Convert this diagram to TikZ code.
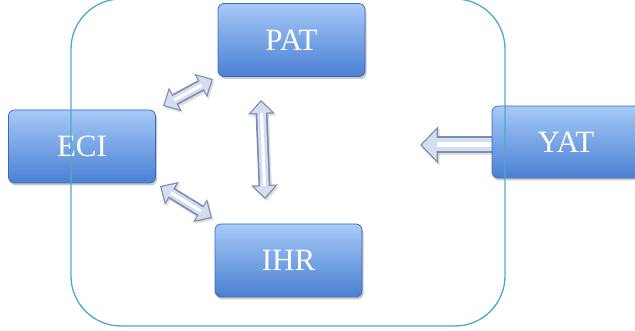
\documentclass[tikz,border=0pt]{standalone}
\usepackage{fontspec}
\setmainfont{Liberation Serif}
\usetikzlibrary{arrows.meta,shadows}

\definecolor{boxtop}{HTML}{A6C9F7}
\definecolor{boxmid}{HTML}{72A5EE}
\definecolor{boxbot}{HTML}{4A80D3}
\definecolor{boxedge}{HTML}{3A69B8}
\definecolor{frameline}{HTML}{4BACC6}
\definecolor{arrowedge}{HTML}{7F8EB0}
\definecolor{arrowfill}{HTML}{D3DEF1}

\tikzset{
  unitbox/.style={
    rectangle, rounded corners=6pt, inner sep=0pt,
    minimum width=147pt, minimum height=73pt,
    draw=boxedge, line width=0.7pt,
    top color=boxtop, middle color=boxmid, bottom color=boxbot,
    drop shadow={shadow xshift=1.5pt, shadow yshift=-2.5pt, opacity=0.35, fill=black!60},
    text=white, font=\fontsize{31}{35}\selectfont
  },
  % two-headed connector, drawn in layers
  twoshade/.style={draw=black!35, line width=12pt,
    {Triangle[length=14pt,width=26pt]}-{Triangle[length=14pt,width=26pt]}},
  twoedge/.style={draw=arrowedge, line width=12pt,
    {Triangle[length=14pt,width=26pt]}-{Triangle[length=14pt,width=26pt]}},
  twofill/.style={draw=arrowfill, line width=8.5pt, shorten >=1.8pt, shorten <=1.8pt,
    {Triangle[length=11pt,width=20.5pt]}-{Triangle[length=11pt,width=20.5pt]}},
  twoshine/.style={draw=white, line width=3pt, shorten >=13pt, shorten <=13pt},
  % one-headed connector
  oneshade/.style={draw=black!35, line width=17pt, -{Triangle[length=18pt,width=36pt]}},
  oneedge/.style={draw=arrowedge, line width=17pt, -{Triangle[length=18pt,width=36pt]}},
  onefill/.style={draw=arrowfill, line width=13pt, shorten >=2pt,
    -{Triangle[length=14.5pt,width=29.5pt]}},
  oneshine/.style={draw=white, line width=5pt, shorten >=17pt},
  frame/.style={draw=frameline, line width=1.3pt, rounded corners=50pt}
}

\begin{document}
\begin{tikzpicture}[x=1pt, y=-1pt]
  \clip (0,0) rectangle (635,331);
  \useasboundingbox (0,0) rectangle (635,331);

  % arrow end points
  \coordinate (pe1) at (163,106);
  \coordinate (pe2) at (213,79);
  \coordinate (pi1) at (261,100);
  \coordinate (pi2) at (265,199);
  \coordinate (ei1) at (160,186);
  \coordinate (ei2) at (212,218);
  \coordinate (yt1) at (494,145);
  \coordinate (yt2) at (420,145);

  % connectors
  \foreach \a/\b in {pe1/pe2, pi1/pi2, ei1/ei2} {
    \draw[twoshade, opacity=0.35, transform canvas={shift={(1.5pt,-2pt)}}] (\a) -- (\b);
    \draw[twoedge] (\a) -- (\b);
    \draw[twofill] (\a) -- (\b);
    \draw[twoshine] (\a) -- (\b);
  }
  \draw[oneshade, opacity=0.35, transform canvas={shift={(1.5pt,-2pt)}}] (yt1) -- (yt2);
  \draw[oneedge] (yt1) -- (yt2);
  \draw[onefill] (yt1) -- (yt2);
  \draw[oneshine] (yt1) -- (yt2);

  % boxes
  \node[unitbox] (pat) at (291.5,40) {PAT};
  \node[unitbox] (eci) at (82,146.5) {ECI};
  \node[unitbox] (ihr) at (288.5,260.5) {IHR};
  \node[unitbox, minimum width=148pt, minimum height=72pt] (yat) at (566,142) {YAT};

  % enclosing frame
  \draw[frame] (71,-1) rectangle (505,326);
\end{tikzpicture}
\end{document}
